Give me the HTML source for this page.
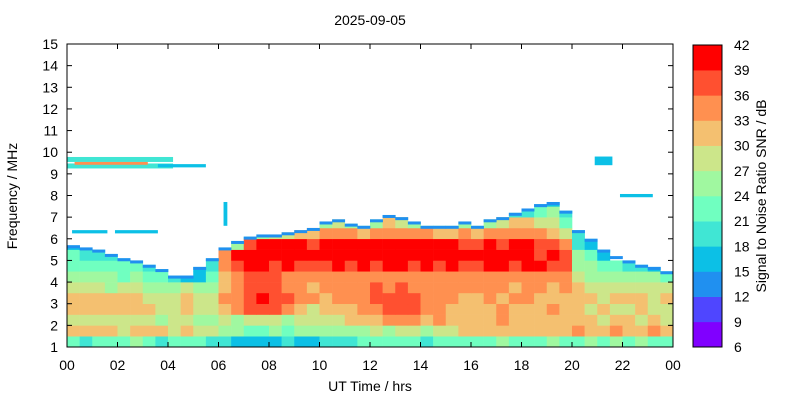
<!DOCTYPE html>
<html><head><meta charset="utf-8"><style>
html,body{margin:0;padding:0;background:#fff;}
svg{display:block;font-family:"Liberation Sans",Arial,sans-serif;}
</style></head><body>
<svg id="chart" width="800" height="400" viewBox="0 0 800 400" xmlns="http://www.w3.org/2000/svg">
<rect x="0" y="0" width="800" height="400" fill="#fff"/>
<text x="370" y="25" font-size="14" text-anchor="middle">2025-09-05</text>
<g id="cells"></g>
<g id="axes"></g>
<g id="cbar"></g>
<text x="370" y="391" font-size="14" text-anchor="middle">UT Time / hrs</text>
<text x="17" y="196" font-size="14" text-anchor="middle" transform="rotate(-90 17 196)">Frequency / MHz</text>
<text x="766" y="196" font-size="14" text-anchor="middle" transform="rotate(-90 766 196)">Signal to Noise Ratio SNR / dB</text>
</svg>
<script>
// ---- data ----
const hourBins = 48;            // half-hour columns
const freqRowStart = 1;         // MHz, rows of 0.5 MHz
const topEdge = [5.7,5.6,5.5,5.3,5.1,5.0,4.8,4.6,4.3,4.3,4.7,5.1,5.6,5.9,6.1,6.2,6.2,6.3,6.4,6.5,6.8,6.9,6.7,6.6,6.9,7.1,7.0,6.8,6.6,6.6,6.6,6.8,6.6,6.9,7.0,7.2,7.4,7.6,7.7,7.3,6.4,6.0,5.5,5.2,5.0,4.8,4.7,4.5];
const snrRows = [
[22,20,23,21,22,24,21,20,22,23,21,19,18,17,16,16,17,18,16,17,18,19,20,21,22,23,22,21,20,22,23,22,22,23,24,22,21,23,24,22,23,24,22,25,23,24,22,23],
[31,32,30,31,29,30,32,31,28,30,29,27,26,24,23,22,24,23,24,25,24,25,24,26,27,26,28,27,26,28,29,30,30,31,30,32,31,30,31,32,33,32,31,33,32,31,33,32],
[28,27,29,28,27,29,28,26,27,28,26,25,27,26,27,28,27,26,27,28,28,29,30,31,32,33,34,33,32,33,32,31,31,32,33,31,30,32,31,30,31,30,29,31,30,29,30,29],
[31,32,31,30,31,32,30,29,29,30,28,27,30,33,36,37,36,33,30,29,30,31,32,33,35,36,37,36,35,33,32,31,31,32,33,32,31,32,33,31,30,29,30,28,29,30,29,28],
[31,30,32,31,30,31,29,28,29,30,29,28,33,35,38,39,38,36,34,33,32,33,34,35,37,38,37,36,35,34,33,32,32,33,32,33,34,32,31,32,31,30,29,30,31,30,29,30],
[27,28,27,26,27,28,26,25,26,27,26,25,32,35,37,38,37,35,33,32,33,34,33,35,36,35,36,35,34,35,33,34,33,34,33,32,33,34,32,33,30,29,28,29,28,27,28,27],
[25,24,25,24,23,24,23,22,18,16,16,22,31,34,36,37,36,35,34,33,34,33,35,34,33,34,35,34,33,34,35,34,34,35,34,33,34,35,34,33,27,26,25,26,25,24,24,22],
[23,22,23,22,21,22,20,19,0,0,17,20,33,37,39,39,38,39,38,37,38,39,38,39,38,39,39,38,39,38,39,38,38,39,39,38,39,39,38,37,25,24,23,22,20,18,16,16],
[21,20,19,18,16,16,0,0,0,0,0,17,33,39,40,40,40,40,40,40,40,40,40,40,40,40,40,39,40,40,40,39,39,40,39,40,39,38,39,37,24,21,17,0,0,0,0,0],
[17,16,0,0,0,0,0,0,0,0,0,0,18,26,38,39,39,39,39,38,39,40,39,40,39,40,39,39,39,40,39,38,38,39,38,39,40,38,37,35,20,16,0,0,0,0,0,0],
[0,0,0,0,0,0,0,0,0,0,0,0,0,0,20,26,27,29,30,31,33,34,33,32,34,35,34,33,33,32,31,33,32,33,34,33,34,33,31,28,18,0,0,0,0,0,0,0],
[0,0,0,0,0,0,0,0,0,0,0,0,0,0,0,0,0,0,0,0,24,27,26,22,26,30,29,26,23,22,23,25,22,26,28,30,31,29,27,22,0,0,0,0,0,0,0,0],
[0,0,0,0,0,0,0,0,0,0,0,0,0,0,0,0,0,0,0,0,0,0,0,0,0,16,0,0,0,0,0,0,0,0,0,18,20,22,24,20,0,0,0,0,0,0,0,0],
[0,0,0,0,0,0,0,0,0,0,0,0,0,0,0,0,0,0,0,0,0,0,0,0,0,0,0,0,0,0,0,0,0,0,0,0,0,16,17,0,0,0,0,0,0,0,0,0]
];
// sparse echoes: [startHr, endHr, lowMHz, highMHz, snr]
const sparseStarts = [0.0, 0.0, 0.3, 3.6, 1.9, 0.2, 21.9, 6.2, 20.9];
const sparseEnds   = [4.2, 4.2, 3.2, 5.5, 3.6, 1.6, 23.2, 6.35, 21.6];
const sparseLows   = [9.55, 9.25, 9.42, 9.3, 6.25, 6.25, 7.92, 6.6, 9.4];
const sparseHighs  = [9.78, 9.48, 9.55, 9.45, 6.4, 6.4, 8.07, 7.7, 9.8];
const sparseSnr    = [18, 20, 34, 15, 16, 15, 16, 15, 17];
const yTicks = [1,2,3,4,5,6,7,8,9,10,11,12,13,14,15];
const xTickHours = [0,2,4,6,8,10,12,14,16,18,20,22,24];
const xTickLabels = ["00","02","04","06","08","10","12","14","16","18","20","22","00"];
const cbTicks = [6,9,12,15,18,21,24,27,30,33,36,39,42];
const cbColors = ["#8000ff","#4f46ff","#2090f0","#0cc0e6","#40e6d4","#70ffc0","#a0f8a0","#cce68a","#f4c070","#ff9050","#ff5030","#ff0000"];

// ---- scales ----
const X0=67,X1=673,Y0=347,Y1=44;
const xs = h => X0 + (h/24)*(X1-X0);
const ys = f => Y0 - (f-1)/14*(Y0-Y1);
const CB0=347,CB1=45;
const cs = v => CB0 - (v-6)/36*(CB0-CB1);
function colorOf(v){let i=Math.floor((v-6)/3);if(i<0)i=0;if(i>11)i=11;return cbColors[i];}
const NS="http://www.w3.org/2000/svg";
function mk(tag,attrs,parent){const e=document.createElementNS(NS,tag);for(const k in attrs)e.setAttribute(k,attrs[k]);parent.appendChild(e);return e;}

// ---- heatmap ----
const cells=document.getElementById('cells');
for(let r=0;r<snrRows.length;r++){
  const fLo=freqRowStart+r*0.5, fHi=fLo+0.5;
  for(let c=0;c<hourBins;c++){
    const v=snrRows[r][c]; if(!v) continue;
    const top=Math.min(fHi,topEdge[c]); if(top<=fLo) continue;
    const x=xs(c*0.5), w=xs((c+1)*0.5)-x+0.3;
    const el=mk('rect',{x:x.toFixed(2),y:ys(top).toFixed(2),width:w.toFixed(2),height:(ys(fLo)-ys(top)+0.3).toFixed(2),fill:colorOf(v)},cells);
    
    
  }
}
// edge border
for(let c=0;c<hourBins;c++){
  const x=xs(c*0.5), w=xs((c+1)*0.5)-x+0.3;
  const el=mk('rect',{x:x.toFixed(2),y:ys(topEdge[c]).toFixed(2),width:w.toFixed(2),height:3,fill:"#2090f0"},cells);
  
  
}
for(let i=0;i<sparseStarts.length;i++){
  const x=xs(sparseStarts[i]);
  const el=mk('rect',{x:x.toFixed(2),y:ys(sparseHighs[i]).toFixed(2),width:(xs(sparseEnds[i])-x).toFixed(2),height:(ys(sparseLows[i])-ys(sparseHighs[i])).toFixed(2),fill:colorOf(sparseSnr[i])},cells);
  
  
}

// ---- axes ----
const ax=document.getElementById('axes');
const frame=mk('rect',{x:X0,y:Y1,width:X1-X0,height:Y0-Y1,fill:"none",stroke:"#000","stroke-width":1},ax);


yTicks.forEach(f=>{
  const y=ys(f);
  mk('line',{x1:X0,x2:X0+5,y1:y,y2:y,stroke:"#000"},ax);
  mk('line',{x1:X1,x2:X1-5,y1:y,y2:y,stroke:"#000"},ax);
  const t=mk('text',{x:X0-9,y:y+5,"font-size":14,"text-anchor":"end"},ax);
  t.textContent=f;
  
  
});
xTickHours.forEach((h,i)=>{
  const x=xs(h);
  mk('line',{x1:x,x2:x,y1:Y0,y2:Y0-5,stroke:"#000"},ax);
  mk('line',{x1:x,x2:x,y1:Y1,y2:Y1+5,stroke:"#000"},ax);
  const t=mk('text',{x:x,y:370,"font-size":14,"text-anchor":"middle"},ax);
  t.textContent=xTickLabels[i];
  
  
});

// ---- colorbar ----
const cb=document.getElementById('cbar');
for(let i=0;i<cbColors.length;i++){
  const lo=6+i*3, hi=lo+3;
  const el=mk('rect',{x:693,y:cs(hi),width:29,height:cs(lo)-cs(hi)+0.3,fill:cbColors[i]},cb);
  
  
}
mk('rect',{x:693,y:CB1,width:29,height:CB0-CB1,fill:"none",stroke:"#000"},cb);
cbTicks.forEach(v=>{
  const t=mk('text',{x:734,y:cs(v)+5,"font-size":14},cb);
  t.textContent=v;
  
  
});
</script>
</body></html>
